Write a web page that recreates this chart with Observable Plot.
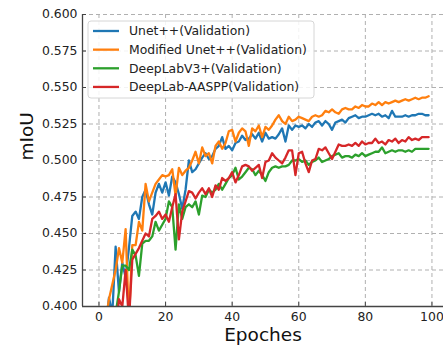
<!DOCTYPE html>
<html>
<head>
<meta charset="utf-8">
<script src="https://cdn.jsdelivr.net/npm/d3@7"></script>
<script src="https://cdn.jsdelivr.net/npm/@observablehq/plot@0.6"></script>
<style>
  html, body { margin: 0; padding: 0; background: #fff; }
  svg { display: block; }
</style>
</head>
<body>
<div id="chart"></div>
<script>
const seriesNames = ["Unet++(Validation)", "Modified Unet++(Validation)", "DeepLabV3+(Validation)", "DeepLab-AASPP(Validation)"];
const colors = ["#1f77b4", "#ff7f0e", "#2ca02c", "#d62728"];
const yTicks = [0.400, 0.425, 0.450, 0.475, 0.500, 0.525, 0.550, 0.575, 0.600];
const xTicks = [0, 20, 40, 60, 80, 100];
const firstEpoch = 1;

const unetpp = [0.36,0.385,0.406,0.395,0.441,0.41,0.43,0.42,0.44,0.462,
  0.465,0.46,0.475,0.48,0.47,0.463,0.478,0.484,0.478,0.485,
  0.476,0.489,0.485,0.477,0.467,0.48,0.5,0.492,0.494,0.498,
  0.502,0.505,0.501,0.503,0.508,0.51,0.516,0.508,0.51,0.507,
  0.512,0.513,0.517,0.514,0.515,0.518,0.515,0.519,0.513,0.519,
  0.515,0.516,0.515,0.518,0.522,0.513,0.524,0.521,0.524,0.523,
  0.524,0.522,0.525,0.523,0.526,0.527,0.524,0.527,0.525,0.521,
  0.526,0.527,0.528,0.526,0.529,0.53,0.531,0.529,0.53,0.53,
  0.531,0.532,0.531,0.532,0.53,0.531,0.529,0.534,0.53,0.53,
  0.53,0.531,0.53,0.531,0.531,0.532,0.532,0.531,0.531];
const modUnetpp = [0.37,0.39,0.405,0.415,0.425,0.44,0.43,0.453,0.39,0.442,
  0.442,0.458,0.452,0.484,0.472,0.478,0.484,0.487,0.49,0.489,
  0.49,0.494,0.476,0.495,0.49,0.493,0.495,0.5,0.506,0.498,
  0.509,0.503,0.505,0.498,0.51,0.513,0.508,0.512,0.52,0.521,
  0.513,0.519,0.522,0.52,0.51,0.522,0.52,0.524,0.516,0.523,
  0.521,0.524,0.528,0.531,0.527,0.525,0.53,0.527,0.528,0.53,
  0.529,0.528,0.527,0.53,0.531,0.53,0.531,0.534,0.533,0.535,
  0.533,0.532,0.535,0.536,0.535,0.535,0.537,0.536,0.538,0.537,
  0.537,0.539,0.538,0.54,0.538,0.54,0.539,0.54,0.541,0.54,
  0.541,0.542,0.541,0.542,0.543,0.542,0.543,0.543,0.544];
const deeplabV3p = [0.35,0.36,0.37,0.38,0.395,0.41,0.428,0.428,0.425,0.439,
  0.435,0.421,0.443,0.445,0.445,0.448,0.458,0.452,0.456,0.46,
  0.472,0.468,0.439,0.47,0.46,0.468,0.47,0.468,0.472,0.463,
  0.476,0.475,0.48,0.478,0.48,0.484,0.48,0.484,0.488,0.49,
  0.495,0.487,0.489,0.492,0.495,0.494,0.49,0.493,0.49,0.486,
  0.492,0.495,0.496,0.495,0.496,0.496,0.497,0.5,0.5,0.501,
  0.499,0.5,0.497,0.499,0.5,0.502,0.499,0.5,0.501,0.503,
  0.504,0.505,0.502,0.503,0.503,0.502,0.504,0.503,0.505,0.503,
  0.504,0.505,0.506,0.506,0.509,0.505,0.506,0.507,0.506,0.507,
  0.507,0.506,0.507,0.506,0.508,0.508,0.508,0.508,0.508];
const deeplabAASPP = [0.34,0.35,0.36,0.37,0.38,0.405,0.40,0.425,0.39,0.432,
  0.436,0.44,0.445,0.45,0.448,0.46,0.462,0.465,0.46,0.463,
  0.458,0.468,0.477,0.446,0.465,0.472,0.479,0.478,0.474,0.478,
  0.481,0.477,0.481,0.475,0.483,0.48,0.488,0.486,0.488,0.492,
  0.485,0.49,0.496,0.497,0.496,0.493,0.495,0.497,0.488,0.499,
  0.5,0.505,0.502,0.5,0.498,0.502,0.507,0.507,0.49,0.505,
  0.506,0.498,0.492,0.5,0.501,0.508,0.507,0.509,0.505,0.501,
  0.506,0.511,0.51,0.51,0.511,0.51,0.512,0.51,0.513,0.511,
  0.512,0.512,0.515,0.512,0.513,0.511,0.514,0.513,0.515,0.512,
  0.514,0.513,0.516,0.514,0.515,0.514,0.516,0.516,0.516];

const allSeries = [unetpp, modUnetpp, deeplabV3p, deeplabAASPP];
const rows = [];
allSeries.forEach((vals, si) => vals.forEach((v, i) => rows.push({epoch: firstEpoch + i, miou: v, series: seriesNames[si]})));

const font = "DejaVu Sans, sans-serif";
const xDomain = [-4.95, 103.95];
const yDomain = [0.4, 0.6];

const chart = Plot.plot({
  width: 443,
  height: 349,
  marginLeft: 82, marginRight: 0, marginTop: 14, marginBottom: 43,
  style: {fontFamily: font, fontSize: "12.4px", color: "#222", background: "#fff"},
  x: {domain: xDomain, range: [82, 444.6], ticks: xTicks},
  y: {domain: yDomain, range: [306, 14], ticks: yTicks},
  color: {domain: seriesNames, range: colors},
  marks: [
    Plot.gridX(xTicks, {stroke: "#b0b0b0", strokeOpacity: 1, strokeDasharray: "4,3", strokeWidth: 1}),
    Plot.gridY(yTicks, {stroke: "#b0b0b0", strokeOpacity: 1, strokeDasharray: "4,3", strokeWidth: 1}),
    Plot.lineY(rows, {x: "epoch", y: "miou", stroke: "series", z: "series", strokeWidth: 2.3, clip: true}),
    Plot.axisX(xTicks, {tickSize: 0, tickPadding: 6, label: null, tickFormat: d => String(d), fill: "#222"}),
    Plot.axisY(yTicks, {tickSize: 0, tickPadding: 5, label: null, tickFormat: d3.format(".3f"), fill: "#222"}),
    Plot.axisX(xTicks, {tickSize: -4, text: null, label: null, stroke: "#444"}),
    Plot.axisY(yTicks, {tickSize: -4, text: null, label: null, stroke: "#444"}),
    Plot.ruleX([xDomain[0]], {stroke: "#444", strokeWidth: 1.3}),
    Plot.ruleY([yDomain[0]], {stroke: "#444", strokeWidth: 1.3}),
    Plot.text(["Epoches"], {frameAnchor: "bottom", dy: 29, fontSize: 18.5, fill: "#111", lineAnchor: "middle"}),
    Plot.text(["mIoU"], {frameAnchor: "left", dx: -55, rotate: -90, fontSize: 18.5, fill: "#111", lineAnchor: "middle"})
  ]
});

// legend
const svg = d3.select(chart);
const lg = svg.append("g").attr("font-family", font).attr("font-size", "12.4px").attr("text-anchor", "start");
lg.append("rect").attr("x", 88).attr("y", 21).attr("width", 226).attr("height", 77)
  .attr("rx", 3).attr("fill", "#fff").attr("fill-opacity", 0.85).attr("stroke", "#d6d6d6");
seriesNames.forEach((name, i) => {
  const cy = 31 + i * 18.65;
  lg.append("line").attr("x1", 93).attr("x2", 119).attr("y1", cy).attr("y2", cy)
    .attr("stroke", colors[i]).attr("stroke-width", 2.3);
  lg.append("text").attr("x", 129).attr("y", cy).attr("dy", "0.35em").attr("text-anchor", "start").attr("fill", "#222").text(name);
});

document.getElementById("chart").appendChild(chart);
</script>
</body>
</html>
